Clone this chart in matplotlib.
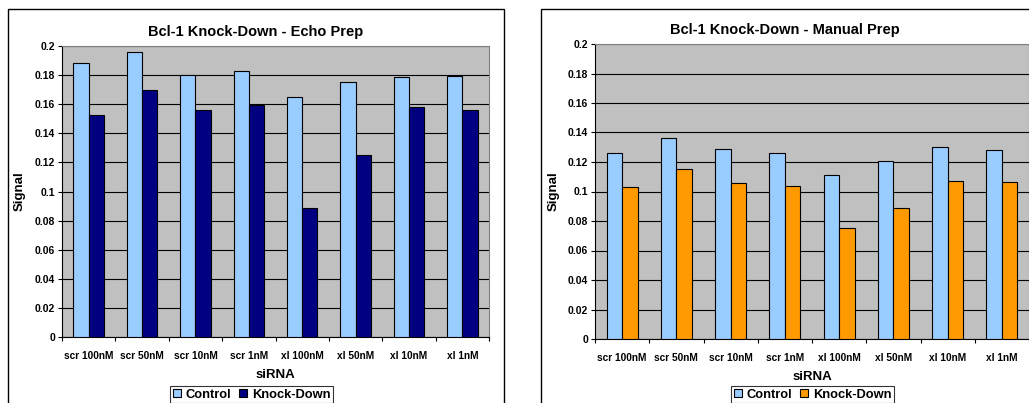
import matplotlib
matplotlib.use("Agg")
import matplotlib.pyplot as plt
from matplotlib.patches import Rectangle, Patch
import numpy as np

categories = ["scr 100nM", "scr 50nM", "scr 10nM", "scr 1nM", "xl 100nM", "xl 50nM", "xl 10nM", "xl 1nM"]
echo_control = [0.188, 0.196, 0.180, 0.1825, 0.165, 0.1755, 0.179, 0.1795]
echo_kd = [0.1525, 0.170, 0.156, 0.1595, 0.0885, 0.125, 0.158, 0.156]
manual_control = [0.126, 0.1365, 0.129, 0.126, 0.111, 0.1205, 0.1305, 0.128]
manual_kd = [0.103, 0.1155, 0.1055, 0.1035, 0.075, 0.089, 0.107, 0.1065]
yticks = [0, 0.02, 0.04, 0.06, 0.08, 0.1, 0.12, 0.14, 0.16, 0.18, 0.2]
ytick_labels = ["0", "0.02", "0.04", "0.06", "0.08", "0.1", "0.12", "0.14", "0.16", "0.18", "0.2"]

W, H = 1029, 403
fig = plt.figure(figsize=(W / 100, H / 100), dpi=100)
plt.rcParams['font.family'] = ['Liberation Sans', 'DejaVu Sans']

def px_axes(x0, y0, x1, y1):
    return fig.add_axes([x0 / W, 1 - y1 / H, (x1 - x0) / W, (y1 - y0) / H])

def chart(box, plot, ctrl, kd, kd_color, legend_x, ylabel_x):
    bx0, by0, bx1 = box
    fig.patches.append(Rectangle((bx0 / W, -0.1), (bx1 - bx0) / W, 1 - by0 / H + 0.1,
                                 transform=fig.transFigure, fill=False, edgecolor='black',
                                 linewidth=1.0, zorder=0))
    x0, y0, x1, y1 = plot
    ax = px_axes(x0, y0, x1, y1)
    ax.set_facecolor('#C0C0C0')
    n = len(categories)
    x = np.arange(n)
    w = 0.286
    ax.bar(x - w / 2, ctrl, width=w, color='#99CCFF', edgecolor='black', linewidth=0.8, zorder=3)
    ax.bar(x + w / 2, kd, width=w, color=kd_color, edgecolor='black', linewidth=0.8, zorder=3)
    ax.set_xlim(-0.5, n - 0.5)
    ax.set_ylim(0, 0.2)
    ax.set_yticks(yticks)
    ax.set_yticklabels(ytick_labels, fontsize=7.5, fontweight='bold')
    ax.yaxis.grid(True, color='black', linewidth=0.8, zorder=1)
    ax.set_axisbelow(True)
    ax.set_xticks(x)
    ax.set_xticklabels(categories, fontsize=7.3, fontweight='bold')
    ax.tick_params(axis='x', length=0, pad=10)
    ax.set_xticks(np.arange(n + 1) - 0.5, minor=True)
    ax.tick_params(axis='x', which='minor', length=3, width=0.8)
    ax.tick_params(axis='y', length=3, width=0.8, pad=2)
    for s in ['top', 'right']:
        ax.spines[s].set_color('#808080')
        ax.spines[s].set_linewidth(0.8)
    for s in ['left', 'bottom']:
        ax.spines[s].set_color('black')
        ax.spines[s].set_linewidth(0.8)
    ax.set_ylabel('Signal', fontsize=9.5, fontweight='bold', va='center')
    ax.yaxis.set_label_coords((ylabel_x - x0) / (x1 - x0), 0.5)
    ax.set_xlabel('siRNA', fontsize=9.5, fontweight='bold', labelpad=6)
    handles = [Patch(facecolor='#99CCFF', edgecolor='black', linewidth=0.8, label='Control'),
               Patch(facecolor=kd_color, edgecolor='black', linewidth=0.8, label='Knock-Down')]
    leg = fig.legend(handles=handles, loc='upper left', bbox_to_anchor=(legend_x / W, 1 - 386 / H),
                     ncol=2, prop={'weight': 'bold', 'size': 9.3}, frameon=True, fancybox=False,
                     edgecolor='black', handlelength=0.65, handleheight=0.65, handletextpad=0.35,
                     columnspacing=0.6, borderpad=0.2, borderaxespad=0)
    leg.get_frame().set_linewidth(0.8)
    return ax

chart((8, 9, 504), (62, 46, 489, 337), echo_control, echo_kd, '#000080', 170, 20)
chart((541, 9, 1050), (595, 44, 1029, 339), manual_control, manual_kd, '#FF9900', 731, 554)

fig.text(256 / W, 1 - 32 / H, 'Bcl-1 Knock-Down - Echo Prep', ha='center', va='center',
         fontsize=10.5, fontweight='bold')
fig.text(785 / W, 1 - 30 / H, 'Bcl-1 Knock-Down - Manual Prep', ha='center', va='center',
         fontsize=10.5, fontweight='bold')

fig.savefig('out.png', dpi=100)
